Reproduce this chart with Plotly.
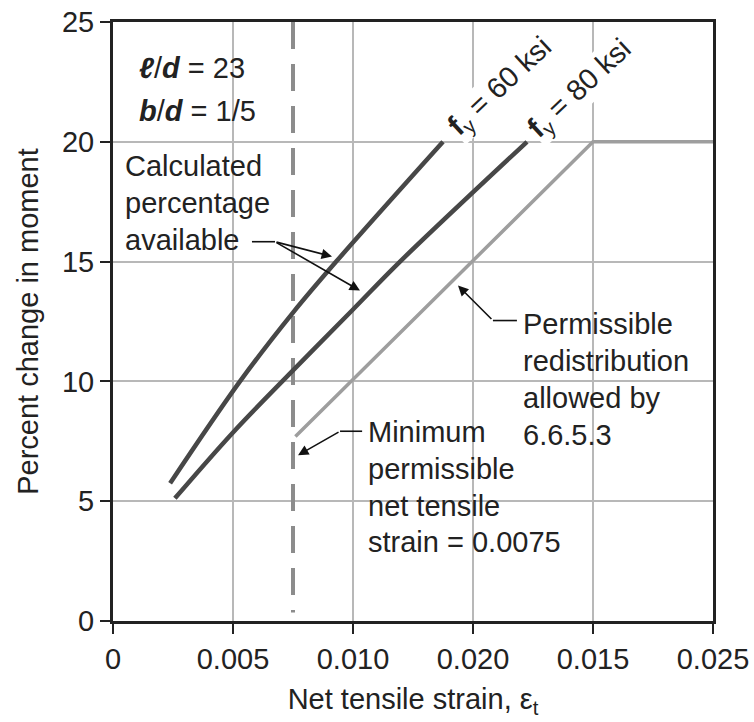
import plotly.graph_objects as go

# ---- data ----
strain_60 = [0.00238, 0.00529, 0.0075, 0.0093, 0.01375]
pct_60 = [5.75, 10.0, 12.87, 15, 20]
strain_80 = [0.00258, 0.005, 0.0075, 0.010, 0.01196, 0.01725]
pct_80 = [5.12, 7.87, 10.46, 13.0, 15, 20]
strain_perm = [0.0076, 0.020, 0.025]
pct_perm = [7.7, 20, 20]
min_strain = 0.0075
min_strain_span = [25, 0.35]

x_tickvals = [0, 0.005, 0.010, 0.015, 0.020, 0.025]
x_ticktext = ["0", "0.005", "0.010", "0.020", "0.015", "0.025"]
y_tickvals = [0, 5, 10, 15, 20, 25]

FONT = "Liberation Sans, Arial, Helvetica, sans-serif"
FS = 29
TXT = "#222222"

fig = go.Figure()
fig.add_trace(go.Scatter(x=[min_strain, min_strain], y=min_strain_span, mode="lines",
                         line=dict(color="#8c8c8c", width=4, dash="27px,15px"),
                         hoverinfo="skip", showlegend=False))
fig.add_trace(go.Scatter(x=strain_perm, y=pct_perm, mode="lines",
                         line=dict(color="#9e9e9e", width=3.5), showlegend=False))
fig.add_trace(go.Scatter(x=strain_60, y=pct_60, mode="lines",
                         line=dict(color="#474747", width=4.5, shape="spline", smoothing=1.0),
                         showlegend=False))
fig.add_trace(go.Scatter(x=strain_80, y=pct_80, mode="lines",
                         line=dict(color="#474747", width=4.5, shape="spline", smoothing=1.0),
                         showlegend=False))

ann = []

def text_block(lines, x, y_top, step=1.54):
    for i, t in enumerate(lines):
        ann.append(dict(x=x, y=y_top - i * step, xref="x", yref="y", text=t,
                        showarrow=False, xanchor="left", yanchor="middle",
                        font=dict(family=FONT, size=FS, color=TXT)))

text_block(["<b><i>ℓ</i></b>/<b><i>d</i></b> = 23"], 0.001, 23.1)
text_block(["<b><i>b</i></b>/<b><i>d</i></b> = 1/5"], 0.001, 21.3)
text_block(["Calculated", "percentage", "available"], 0.0004, 19.0)
text_block(["Minimum", "permissible", "net tensile", "strain = 0.0075"], 0.01055, 7.9)
text_block(["Permissible", "redistribution", "allowed by", "6.6.5.3"], 0.01700, 12.4)

# rotated f_y labels
for t, x, y in [("<b>f</b><sub>y</sub> = 60 ksi", 0.01615, 22.3),
                ("<b>f</b><sub>y</sub> = 80 ksi", 0.01948, 22.2)]:
    ann.append(dict(x=x, y=y, xref="x", yref="y", text=t, showarrow=False,
                    textangle=-43, bgcolor="white", borderpad=0,
                    font=dict(family=FONT, size=FS, color=TXT)))

# leader arrows
def arrow(hx, hy, tx, ty):
    ann.append(dict(x=hx, y=hy, ax=tx, ay=ty, xref="x", yref="y", axref="x", ayref="y",
                    text="", showarrow=True, arrowhead=2, arrowsize=1.3, arrowwidth=1.6,
                    arrowcolor="#111111", standoff=0, startstandoff=0))

arrow(0.009125, 15.21, 0.00675, 15.83)
arrow(0.01029, 13.79, 0.00675, 15.83)
arrow(0.00771, 6.92, 0.00946, 7.92)
arrow(0.014375, 14.0, 0.01583, 12.54)

shapes = [
    dict(type="line", x0=0.00579, x1=0.00675, y0=15.83, y1=15.83, xref="x", yref="y",
         line=dict(color="#111111", width=1.6)),
    dict(type="line", x0=0.00946, x1=0.01038, y0=7.92, y1=7.92, xref="x", yref="y",
         line=dict(color="#111111", width=1.6)),
    dict(type="line", x0=0.01583, x1=0.01683, y0=12.54, y1=12.54, xref="x", yref="y",
         line=dict(color="#111111", width=1.6)),
]

fig.update_layout(
    width=754, height=722,
    margin=dict(l=113, r=41, t=22, b=101),
    paper_bgcolor="white", plot_bgcolor="white",
    font=dict(family=FONT, size=FS, color=TXT),
    annotations=ann, shapes=shapes,
    xaxis=dict(range=[0, 0.025], tickvals=x_tickvals, ticktext=x_ticktext,
               automargin=False,
               showgrid=True, gridcolor="#b8b8b8", gridwidth=2,
               showline=True, linecolor="#222222", linewidth=3, mirror=True,
               ticks="outside", ticklen=10, tickwidth=2, tickcolor="#222222",
               zeroline=False,
               title=dict(text="Net tensile strain, ε<sub>t</sub>",
                          font=dict(family=FONT, size=FS, color=TXT)),
               tickfont=dict(family=FONT, size=FS, color=TXT)),
    yaxis=dict(range=[0, 25], tickvals=y_tickvals,
               automargin=False,
               showgrid=True, gridcolor="#b8b8b8", gridwidth=2,
               showline=True, linecolor="#222222", linewidth=3, mirror=True,
               ticks="outside", ticklen=10, tickwidth=2, tickcolor="#222222",
               zeroline=False,
               title=dict(text="Percent change in moment",
                          font=dict(family=FONT, size=FS, color=TXT)),
               tickfont=dict(family=FONT, size=FS, color=TXT)),
)

fig.write_html("out.html", config={"displayModeBar": False},
               post_script="document.body.style.margin='0';document.body.style.overflow='hidden';")
